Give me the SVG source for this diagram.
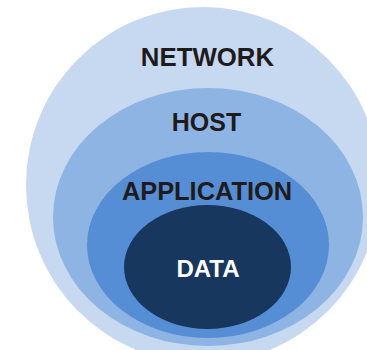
<svg xmlns="http://www.w3.org/2000/svg" width="367" height="350" viewBox="0 0 367 350">
<style>
.lbl{font-family:"Liberation Sans",Arial,sans-serif;font-weight:bold;font-size:25px;text-anchor:middle;fill:#1F1B1C}
.w{fill:#FFFFFF}
</style>
<rect width="367" height="350" fill="#FFFFFF"/>
<g id="network"><ellipse cx="203" cy="185" rx="177" ry="178" fill="#C6D9F1"/><text class="lbl" x="207.5" y="66" style="font-size:25.8px">NETWORK</text></g>
<g id="host"><ellipse cx="208" cy="217" rx="155" ry="129" fill="#8EB4E3"/><text class="lbl" x="206.5" y="131">HOST</text></g>
<g id="application"><ellipse cx="208" cy="245" rx="121" ry="93" fill="#558ED5"/><text class="lbl" x="207" y="200" style="font-size:25.4px">APPLICATION</text></g>
<g id="data"><ellipse cx="207.5" cy="267" rx="83.5" ry="62" fill="#17375E"/><text class="lbl w" x="208" y="277" style="font-size:24px">DATA</text></g>
<g id="connectors"></g>
</svg>
